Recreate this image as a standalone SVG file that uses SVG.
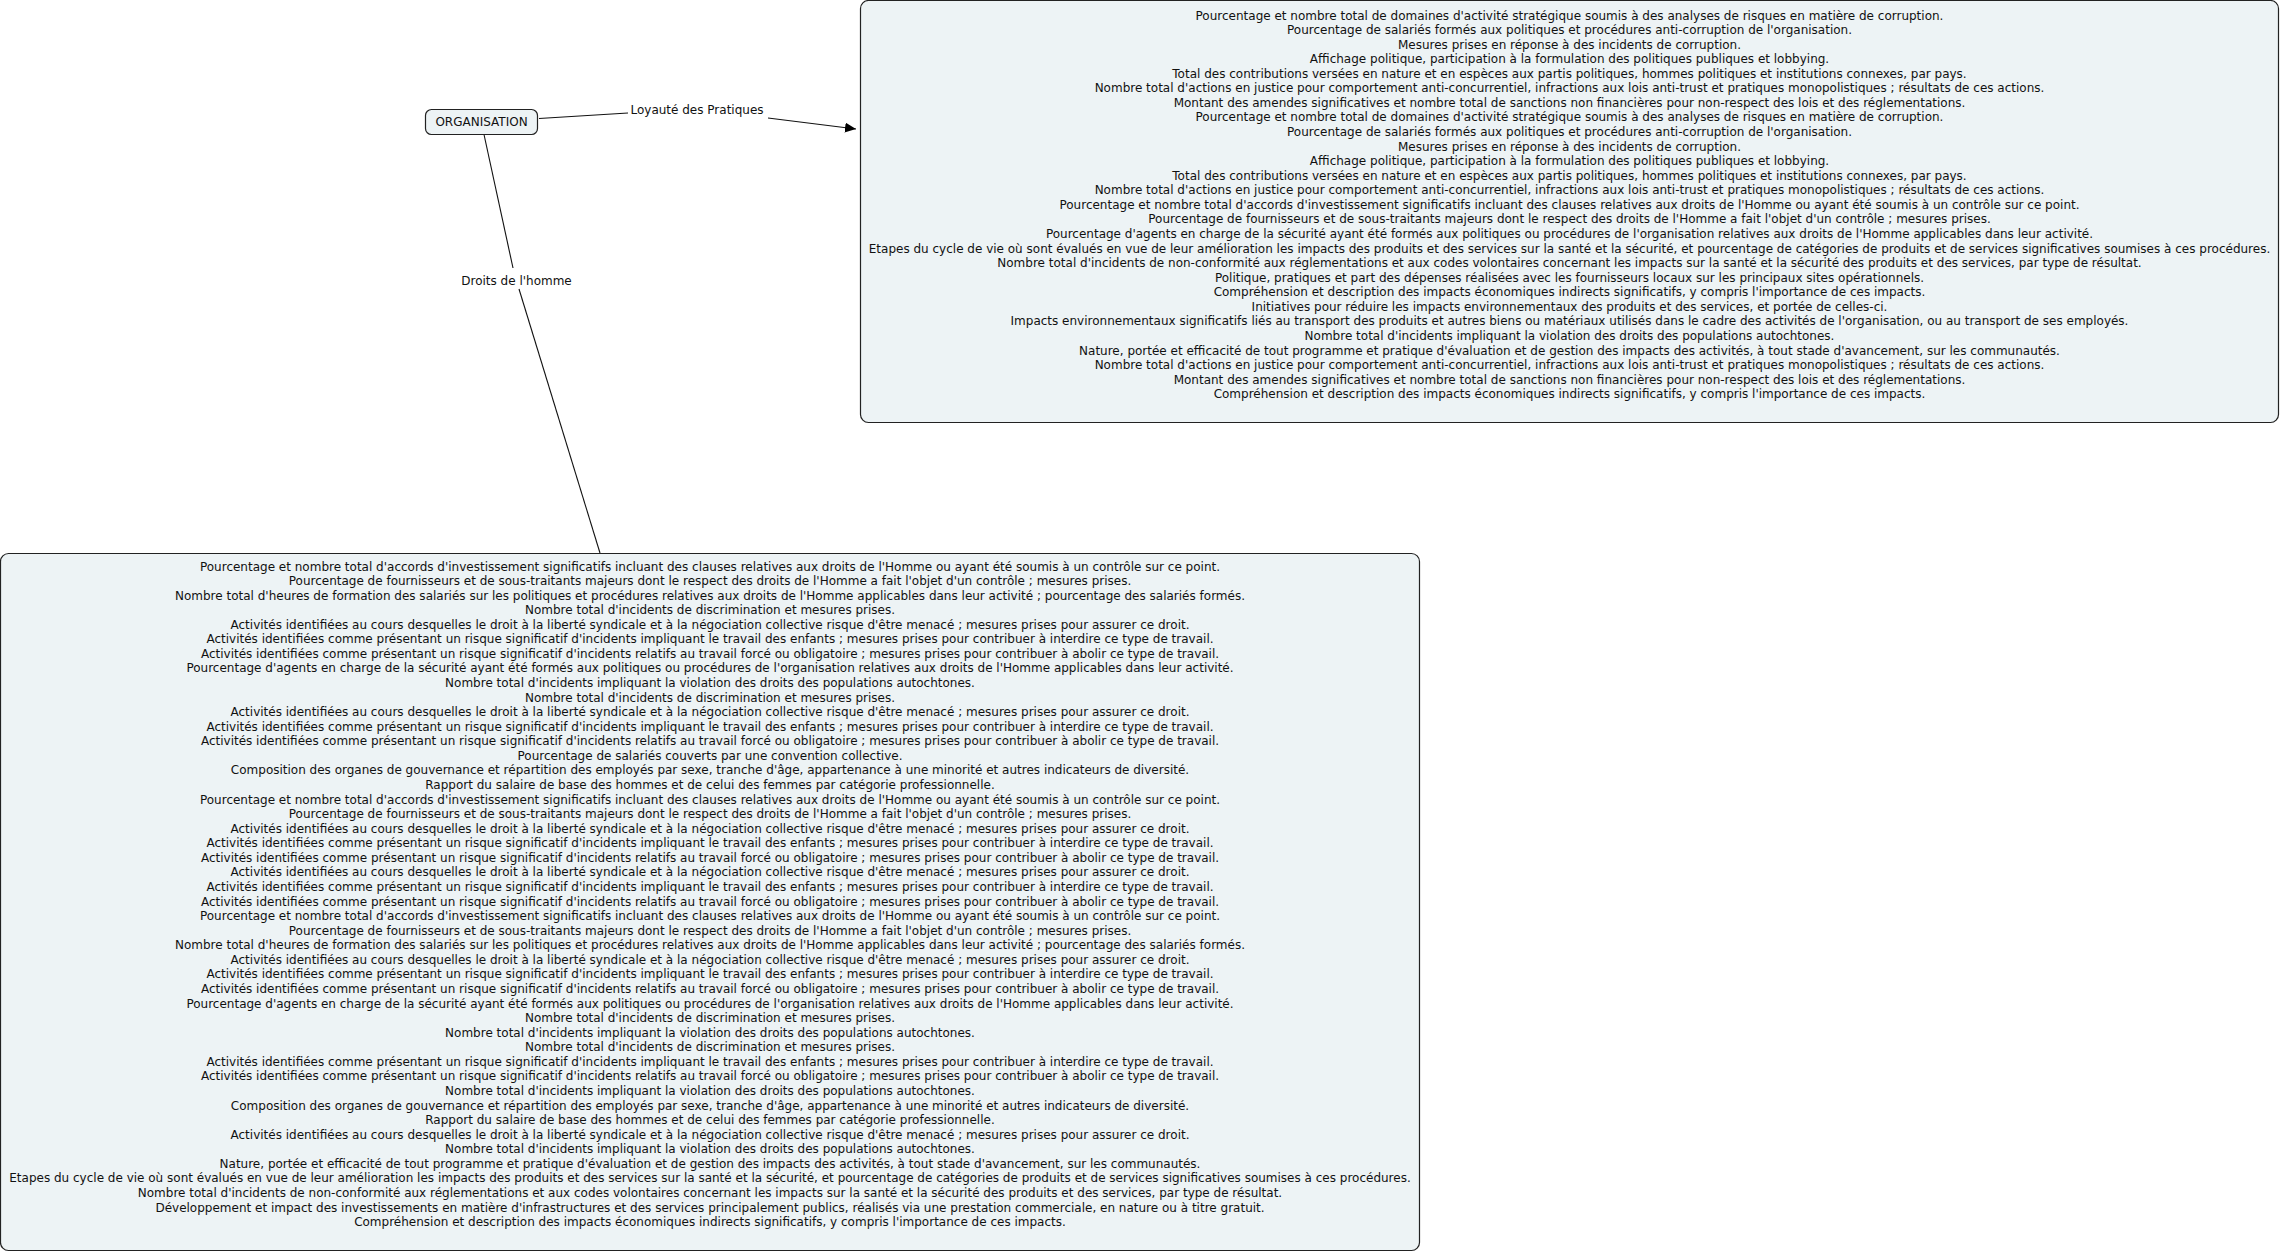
<svg xmlns="http://www.w3.org/2000/svg" width="2281" height="1254" viewBox="0 0 2281 1254">
<style>
.box{fill:#edf3f5;stroke:#222;stroke-width:1.2}
.t{font-family:"DejaVu Sans","Liberation Sans",sans-serif;font-size:12px;fill:#111;text-anchor:middle}
.lnk{stroke:#111;stroke-width:1.1;fill:none}
</style>
<defs>
<marker id="ah" markerWidth="11" markerHeight="10" refX="11" refY="5" orient="auto" markerUnits="userSpaceOnUse">
<path d="M0,0 L11,5 L0,10 z" fill="#000"/>
</marker>
</defs>
<rect width="2281" height="1254" fill="#fff"/>
<g id="connectors">
<line class="lnk" x1="539" y1="118.5" x2="628" y2="113"/>
<line class="lnk" x1="768" y1="118" x2="856" y2="129" marker-end="url(#ah)"/>
<line class="lnk" x1="484" y1="134.5" x2="513" y2="268"/>
<line class="lnk" x1="519" y1="289" x2="600" y2="553"/>
<text class="t" x="697" y="113.5">Loyauté des Pratiques</text>
<text class="t" x="516.5" y="284.5">Droits de l'homme</text>
</g>
<g id="node-organisation">
<rect class="box" x="425.5" y="109.5" width="112" height="25" rx="6"/>
<text class="t" x="481.5" y="126">ORGANISATION</text>
</g>
<g id="node-loyaute">
<rect class="box" x="860.5" y="0.5" width="1418" height="422" rx="8"/>
<text class="t" x="1569.5" y="19.5">Pourcentage et nombre total de domaines d'activité stratégique soumis à des analyses de risques en matière de corruption.</text>
<text class="t" x="1569.5" y="34.07">Pourcentage de salariés formés aux politiques et procédures anti-corruption de l'organisation.</text>
<text class="t" x="1569.5" y="48.64">Mesures prises en réponse à des incidents de corruption.</text>
<text class="t" x="1569.5" y="63.21">Affichage politique, participation à la formulation des politiques publiques et lobbying.</text>
<text class="t" x="1569.5" y="77.78">Total des contributions versées en nature et en espèces aux partis politiques, hommes politiques et institutions connexes, par pays.</text>
<text class="t" x="1569.5" y="92.35">Nombre total d'actions en justice pour comportement anti-concurrentiel, infractions aux lois anti-trust et pratiques monopolistiques ; résultats de ces actions.</text>
<text class="t" x="1569.5" y="106.92">Montant des amendes significatives et nombre total de sanctions non financières pour non-respect des lois et des réglementations.</text>
<text class="t" x="1569.5" y="121.49">Pourcentage et nombre total de domaines d'activité stratégique soumis à des analyses de risques en matière de corruption.</text>
<text class="t" x="1569.5" y="136.06">Pourcentage de salariés formés aux politiques et procédures anti-corruption de l'organisation.</text>
<text class="t" x="1569.5" y="150.63">Mesures prises en réponse à des incidents de corruption.</text>
<text class="t" x="1569.5" y="165.2">Affichage politique, participation à la formulation des politiques publiques et lobbying.</text>
<text class="t" x="1569.5" y="179.77">Total des contributions versées en nature et en espèces aux partis politiques, hommes politiques et institutions connexes, par pays.</text>
<text class="t" x="1569.5" y="194.34">Nombre total d'actions en justice pour comportement anti-concurrentiel, infractions aux lois anti-trust et pratiques monopolistiques ; résultats de ces actions.</text>
<text class="t" x="1569.5" y="208.91">Pourcentage et nombre total d'accords d'investissement significatifs incluant des clauses relatives aux droits de l'Homme ou ayant été soumis à un contrôle sur ce point.</text>
<text class="t" x="1569.5" y="223.48">Pourcentage de fournisseurs et de sous-traitants majeurs dont le respect des droits de l'Homme a fait l'objet d'un contrôle ; mesures prises.</text>
<text class="t" x="1569.5" y="238.05">Pourcentage d'agents en charge de la sécurité ayant été formés aux politiques ou procédures de l'organisation relatives aux droits de l'Homme applicables dans leur activité.</text>
<text class="t" x="1569.5" y="252.62">Etapes du cycle de vie où sont évalués en vue de leur amélioration les impacts des produits et des services sur la santé et la sécurité, et pourcentage de catégories de produits et de services significatives soumises à ces procédures.</text>
<text class="t" x="1569.5" y="267.19">Nombre total d'incidents de non-conformité aux réglementations et aux codes volontaires concernant les impacts sur la santé et la sécurité des produits et des services, par type de résultat.</text>
<text class="t" x="1569.5" y="281.76">Politique, pratiques et part des dépenses réalisées avec les fournisseurs locaux sur les principaux sites opérationnels.</text>
<text class="t" x="1569.5" y="296.33">Compréhension et description des impacts économiques indirects significatifs, y compris l'importance de ces impacts.</text>
<text class="t" x="1569.5" y="310.9">Initiatives pour réduire les impacts environnementaux des produits et des services, et portée de celles-ci.</text>
<text class="t" x="1569.5" y="325.47">Impacts environnementaux significatifs liés au transport des produits et autres biens ou matériaux utilisés dans le cadre des activités de l'organisation, ou au transport de ses employés.</text>
<text class="t" x="1569.5" y="340.04">Nombre total d'incidents impliquant la violation des droits des populations autochtones.</text>
<text class="t" x="1569.5" y="354.61">Nature, portée et efficacité de tout programme et pratique d'évaluation et de gestion des impacts des activités, à tout stade d'avancement, sur les communautés.</text>
<text class="t" x="1569.5" y="369.18">Nombre total d'actions en justice pour comportement anti-concurrentiel, infractions aux lois anti-trust et pratiques monopolistiques ; résultats de ces actions.</text>
<text class="t" x="1569.5" y="383.75">Montant des amendes significatives et nombre total de sanctions non financières pour non-respect des lois et des réglementations.</text>
<text class="t" x="1569.5" y="398.32">Compréhension et description des impacts économiques indirects significatifs, y compris l'importance de ces impacts.</text>
</g>
<g id="node-droits">
<rect class="box" x="0.5" y="553.5" width="1419" height="697" rx="8"/>
<text class="t" x="710" y="570.5">Pourcentage et nombre total d'accords d'investissement significatifs incluant des clauses relatives aux droits de l'Homme ou ayant été soumis à un contrôle sur ce point.</text>
<text class="t" x="710" y="585.07">Pourcentage de fournisseurs et de sous-traitants majeurs dont le respect des droits de l'Homme a fait l'objet d'un contrôle ; mesures prises.</text>
<text class="t" x="710" y="599.64">Nombre total d'heures de formation des salariés sur les politiques et procédures relatives aux droits de l'Homme applicables dans leur activité ; pourcentage des salariés formés.</text>
<text class="t" x="710" y="614.21">Nombre total d'incidents de discrimination et mesures prises.</text>
<text class="t" x="710" y="628.78">Activités identifiées au cours desquelles le droit à la liberté syndicale et à la négociation collective risque d'être menacé ; mesures prises pour assurer ce droit.</text>
<text class="t" x="710" y="643.35">Activités identifiées comme présentant un risque significatif d'incidents impliquant le travail des enfants ; mesures prises pour contribuer à interdire ce type de travail.</text>
<text class="t" x="710" y="657.92">Activités identifiées comme présentant un risque significatif d'incidents relatifs au travail forcé ou obligatoire ; mesures prises pour contribuer à abolir ce type de travail.</text>
<text class="t" x="710" y="672.49">Pourcentage d'agents en charge de la sécurité ayant été formés aux politiques ou procédures de l'organisation relatives aux droits de l'Homme applicables dans leur activité.</text>
<text class="t" x="710" y="687.06">Nombre total d'incidents impliquant la violation des droits des populations autochtones.</text>
<text class="t" x="710" y="701.63">Nombre total d'incidents de discrimination et mesures prises.</text>
<text class="t" x="710" y="716.2">Activités identifiées au cours desquelles le droit à la liberté syndicale et à la négociation collective risque d'être menacé ; mesures prises pour assurer ce droit.</text>
<text class="t" x="710" y="730.77">Activités identifiées comme présentant un risque significatif d'incidents impliquant le travail des enfants ; mesures prises pour contribuer à interdire ce type de travail.</text>
<text class="t" x="710" y="745.34">Activités identifiées comme présentant un risque significatif d'incidents relatifs au travail forcé ou obligatoire ; mesures prises pour contribuer à abolir ce type de travail.</text>
<text class="t" x="710" y="759.91">Pourcentage de salariés couverts par une convention collective.</text>
<text class="t" x="710" y="774.48">Composition des organes de gouvernance et répartition des employés par sexe, tranche d'âge, appartenance à une minorité et autres indicateurs de diversité.</text>
<text class="t" x="710" y="789.05">Rapport du salaire de base des hommes et de celui des femmes par catégorie professionnelle.</text>
<text class="t" x="710" y="803.62">Pourcentage et nombre total d'accords d'investissement significatifs incluant des clauses relatives aux droits de l'Homme ou ayant été soumis à un contrôle sur ce point.</text>
<text class="t" x="710" y="818.19">Pourcentage de fournisseurs et de sous-traitants majeurs dont le respect des droits de l'Homme a fait l'objet d'un contrôle ; mesures prises.</text>
<text class="t" x="710" y="832.76">Activités identifiées au cours desquelles le droit à la liberté syndicale et à la négociation collective risque d'être menacé ; mesures prises pour assurer ce droit.</text>
<text class="t" x="710" y="847.33">Activités identifiées comme présentant un risque significatif d'incidents impliquant le travail des enfants ; mesures prises pour contribuer à interdire ce type de travail.</text>
<text class="t" x="710" y="861.9">Activités identifiées comme présentant un risque significatif d'incidents relatifs au travail forcé ou obligatoire ; mesures prises pour contribuer à abolir ce type de travail.</text>
<text class="t" x="710" y="876.47">Activités identifiées au cours desquelles le droit à la liberté syndicale et à la négociation collective risque d'être menacé ; mesures prises pour assurer ce droit.</text>
<text class="t" x="710" y="891.04">Activités identifiées comme présentant un risque significatif d'incidents impliquant le travail des enfants ; mesures prises pour contribuer à interdire ce type de travail.</text>
<text class="t" x="710" y="905.61">Activités identifiées comme présentant un risque significatif d'incidents relatifs au travail forcé ou obligatoire ; mesures prises pour contribuer à abolir ce type de travail.</text>
<text class="t" x="710" y="920.18">Pourcentage et nombre total d'accords d'investissement significatifs incluant des clauses relatives aux droits de l'Homme ou ayant été soumis à un contrôle sur ce point.</text>
<text class="t" x="710" y="934.75">Pourcentage de fournisseurs et de sous-traitants majeurs dont le respect des droits de l'Homme a fait l'objet d'un contrôle ; mesures prises.</text>
<text class="t" x="710" y="949.32">Nombre total d'heures de formation des salariés sur les politiques et procédures relatives aux droits de l'Homme applicables dans leur activité ; pourcentage des salariés formés.</text>
<text class="t" x="710" y="963.89">Activités identifiées au cours desquelles le droit à la liberté syndicale et à la négociation collective risque d'être menacé ; mesures prises pour assurer ce droit.</text>
<text class="t" x="710" y="978.46">Activités identifiées comme présentant un risque significatif d'incidents impliquant le travail des enfants ; mesures prises pour contribuer à interdire ce type de travail.</text>
<text class="t" x="710" y="993.03">Activités identifiées comme présentant un risque significatif d'incidents relatifs au travail forcé ou obligatoire ; mesures prises pour contribuer à abolir ce type de travail.</text>
<text class="t" x="710" y="1007.6">Pourcentage d'agents en charge de la sécurité ayant été formés aux politiques ou procédures de l'organisation relatives aux droits de l'Homme applicables dans leur activité.</text>
<text class="t" x="710" y="1022.17">Nombre total d'incidents de discrimination et mesures prises.</text>
<text class="t" x="710" y="1036.74">Nombre total d'incidents impliquant la violation des droits des populations autochtones.</text>
<text class="t" x="710" y="1051.31">Nombre total d'incidents de discrimination et mesures prises.</text>
<text class="t" x="710" y="1065.88">Activités identifiées comme présentant un risque significatif d'incidents impliquant le travail des enfants ; mesures prises pour contribuer à interdire ce type de travail.</text>
<text class="t" x="710" y="1080.45">Activités identifiées comme présentant un risque significatif d'incidents relatifs au travail forcé ou obligatoire ; mesures prises pour contribuer à abolir ce type de travail.</text>
<text class="t" x="710" y="1095.02">Nombre total d'incidents impliquant la violation des droits des populations autochtones.</text>
<text class="t" x="710" y="1109.59">Composition des organes de gouvernance et répartition des employés par sexe, tranche d'âge, appartenance à une minorité et autres indicateurs de diversité.</text>
<text class="t" x="710" y="1124.16">Rapport du salaire de base des hommes et de celui des femmes par catégorie professionnelle.</text>
<text class="t" x="710" y="1138.73">Activités identifiées au cours desquelles le droit à la liberté syndicale et à la négociation collective risque d'être menacé ; mesures prises pour assurer ce droit.</text>
<text class="t" x="710" y="1153.3">Nombre total d'incidents impliquant la violation des droits des populations autochtones.</text>
<text class="t" x="710" y="1167.87">Nature, portée et efficacité de tout programme et pratique d'évaluation et de gestion des impacts des activités, à tout stade d'avancement, sur les communautés.</text>
<text class="t" x="710" y="1182.44">Etapes du cycle de vie où sont évalués en vue de leur amélioration les impacts des produits et des services sur la santé et la sécurité, et pourcentage de catégories de produits et de services significatives soumises à ces procédures.</text>
<text class="t" x="710" y="1197.01">Nombre total d'incidents de non-conformité aux réglementations et aux codes volontaires concernant les impacts sur la santé et la sécurité des produits et des services, par type de résultat.</text>
<text class="t" x="710" y="1211.58">Développement et impact des investissements en matière d'infrastructures et des services principalement publics, réalisés via une prestation commerciale, en nature ou à titre gratuit.</text>
<text class="t" x="710" y="1226.15">Compréhension et description des impacts économiques indirects significatifs, y compris l'importance de ces impacts.</text>
</g>
</svg>
